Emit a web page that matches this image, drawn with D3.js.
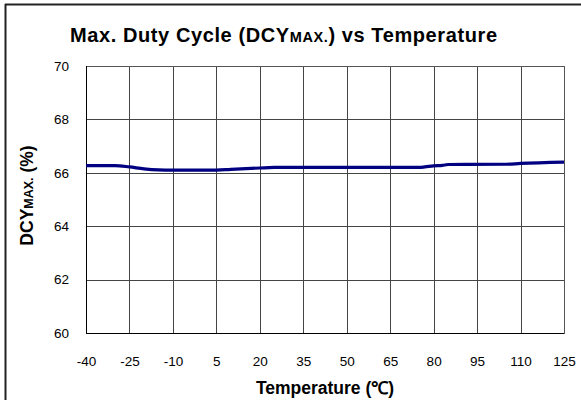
<!DOCTYPE html>
<html><head><meta charset="utf-8">
<script src="https://cdn.jsdelivr.net/npm/d3@7"></script>
<style>body{margin:0;background:#fff}svg{display:block;font-family:"Liberation Sans",Arial,sans-serif}</style>
</head><body>
<script>
const temps = [-40,-30,-25,-20,-15,-10,0,5,10,20,25,75,77,80,83,85,105,110,125];
const dcyMax = [66.27,66.27,66.22,66.15,66.11,66.10,66.10,66.10,66.13,66.18,66.20,66.20,66.22,66.26,66.28,66.31,66.32,66.35,66.40];
const xTicks = [-40,-25,-10,5,20,35,50,65,80,95,110,125];
const yTicks = [60,62,64,66,68,70];

const W=581,H=400;
const m={l:86,r:17,t:66,b:67};
const svg=d3.select("body").append("svg").attr("width",W).attr("height",H);
// frame
svg.append("line").attr("x1",5).attr("x2",W).attr("y1",4.5).attr("y2",4.5).attr("stroke","#222").attr("stroke-width",2);
svg.append("line").attr("x1",5.5).attr("x2",5.5).attr("y1",4).attr("y2",H).attr("stroke","#222").attr("stroke-width",2);

const x=d3.scaleLinear().domain([-40,125]).range([m.l,W-m.r]);
const y=d3.scaleLinear().domain([60,70]).range([H-m.b,m.t]);

// grid
svg.append("g").selectAll("line").data(xTicks).join("line")
  .attr("x1",d=>Math.round(x(d))+0.5).attr("x2",d=>Math.round(x(d))+0.5)
  .attr("y1",y(60)).attr("y2",y(70)).attr("stroke","#444").attr("stroke-width",1);
svg.append("g").selectAll("line").data(yTicks).join("line")
  .attr("y1",d=>Math.round(y(d))+0.5).attr("y2",d=>Math.round(y(d))+0.5)
  .attr("x1",x(-40)).attr("x2",x(125)).attr("stroke","#444").attr("stroke-width",1);
// plot border
svg.append("rect").attr("x",Math.round(x(-40))+0.5).attr("y",Math.round(y(70))+0.5)
  .attr("width",Math.round(x(125))-Math.round(x(-40))).attr("height",Math.round(y(60))-Math.round(y(70)))
  .attr("fill","none").attr("stroke","#555");
svg.append("line").attr("x1",Math.round(x(-40))+0.5).attr("x2",Math.round(x(-40))+0.5).attr("y1",y(70)).attr("y2",y(60)+0.5).attr("stroke","#000");
svg.append("line").attr("x1",x(-40)).attr("x2",x(125)).attr("y1",Math.round(y(60))+0.5).attr("y2",Math.round(y(60))+0.5).attr("stroke","#000");

// axes labels via d3 axes
const xa=svg.append("g").attr("transform",`translate(0,${y(60)})`)
  .call(d3.axisBottom(x).tickValues(xTicks).tickSize(0).tickPadding(23).tickFormat(d=>String(d)));
const ya=svg.append("g").attr("transform",`translate(${x(-40)},0)`)
  .call(d3.axisLeft(y).tickValues(yTicks).tickSize(0).tickPadding(17).tickFormat(d=>String(d)));
[xa,ya].forEach(a=>{a.select(".domain").remove();a.selectAll("text").attr("font-size",13.5).attr("fill","#000").attr("font-family","Liberation Sans, Arial, sans-serif");});

// line
svg.append("path").datum(temps.map((t,i)=>[t,dcyMax[i]]))
  .attr("d",d3.line().x(d=>x(d[0])).y(d=>y(d[1])).curve(d3.curveMonotoneX))
  .attr("fill","none").attr("stroke","#000080").attr("stroke-width",3.2);

// title
const tt=svg.append("text").attr("x",70).attr("y",42)
  .attr("font-size",20).attr("font-weight","bold").attr("textLength",427).attr("lengthAdjust","spacing");
tt.append("tspan").text("Max. Duty Cycle (DCY");
tt.append("tspan").attr("font-size",14.5).text("MAX.");
tt.append("tspan").text(") vs Temperature");

svg.append("text").attr("x",(x(-40)+x(125))/2).attr("y",394).attr("text-anchor","middle")
  .attr("font-size",17.5).attr("font-weight","bold").text("Temperature (℃)");

const yt=svg.append("text").attr("transform",`translate(33,${(y(60)+y(70))/2 - 4}) rotate(-90)`)
  .attr("text-anchor","middle").attr("font-size",17.5).attr("font-weight","bold");
yt.append("tspan").text("DCY");
yt.append("tspan").attr("font-size",12.5).text("MAX.");
yt.append("tspan").text(" (%)");
</script>
</body></html>
